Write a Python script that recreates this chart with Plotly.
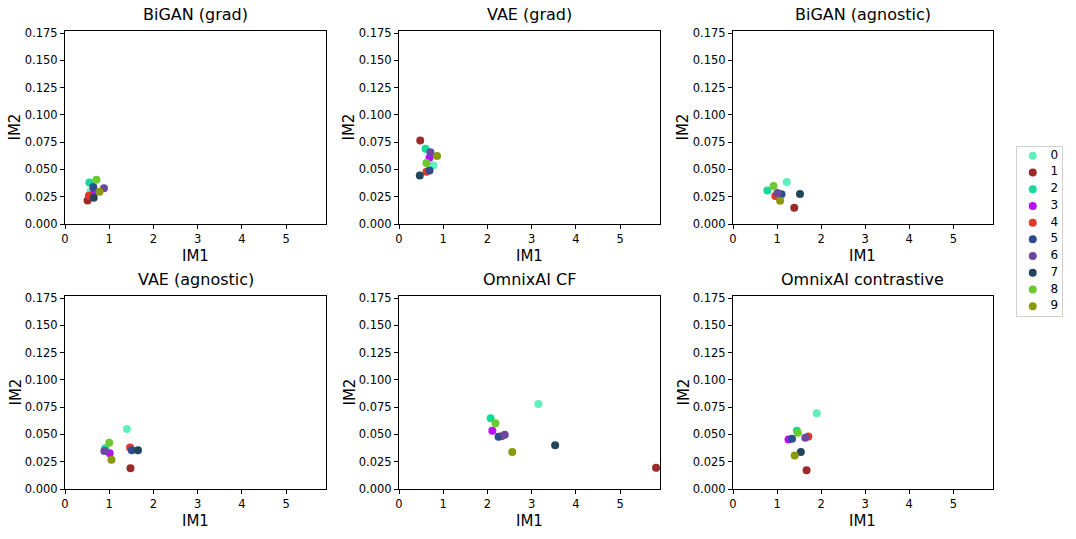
import plotly.graph_objects as go

# Scatter of IM1 vs IM2 per class, six explainer variants.
W, H = 1076, 539

CLASSES = ["0", "1", "2", "3", "4", "5", "6", "7", "8", "9"]
COLORS = ["#60f0bf", "#9b2b2b", "#17d99a", "#b511f2", "#e0392c",
          "#2f4c8c", "#6b49a0", "#22465a", "#6cc92e", "#8a9a0e"]

PANEL_TITLES = ["BiGAN (grad)", "VAE (grad)", "BiGAN (agnostic)",
                "VAE (agnostic)", "OmnixAI CF", "OmnixAI contrastive"]

# IM1 / IM2 per class (index = class label)
bigan_grad_im1 = [0.58, 0.51, 0.55, 0.65, 0.54, 0.64, 0.88, 0.65, 0.71, 0.78]
bigan_grad_im2 = [0.030, 0.0216, 0.038, 0.0284, 0.026, 0.034, 0.0327, 0.024, 0.0405, 0.0296]

vae_grad_im1 = [0.78, 0.48, 0.60, 0.69, 0.62, 0.69, 0.71, 0.47, 0.62, 0.86]
vae_grad_im2 = [0.0537, 0.0766, 0.069, 0.0608, 0.048, 0.049, 0.0657, 0.0444, 0.0558, 0.0623]

bigan_agn_im1 = [1.22, 1.39, 0.78, 1.00, 0.96, 1.10, 1.01, 1.52, 0.92, 1.07]
bigan_agn_im2 = [0.0386, 0.0148, 0.0308, 0.027, 0.0256, 0.0272, 0.0284, 0.0275, 0.0349, 0.0213]

vae_agn_im1 = [1.40, 1.48, 0.91, 1.01, 1.47, 1.51, 0.89, 1.65, 1.00, 1.05]
vae_agn_im2 = [0.0549, 0.0191, 0.0373, 0.0327, 0.038, 0.0355, 0.0349, 0.0355, 0.0423, 0.0269]

cf_im1 = [3.15, 5.81, 2.07, 2.11, 2.32, 2.25, 2.39, 3.53, 2.18, 2.56]
cf_im2 = [0.078, 0.0194, 0.0648, 0.0534, 0.0484, 0.0479, 0.0497, 0.0401, 0.0602, 0.034]

contr_im1 = [1.90, 1.67, 1.45, 1.26, 1.71, 1.34, 1.64, 1.54, 1.47, 1.40]
contr_im2 = [0.0694, 0.0173, 0.0534, 0.0454, 0.0481, 0.046, 0.0469, 0.034, 0.0515, 0.0306]

PANELS = [(bigan_grad_im1, bigan_grad_im2), (vae_grad_im1, vae_grad_im2),
          (bigan_agn_im1, bigan_agn_im2), (vae_agn_im1, vae_agn_im2),
          (cf_im1, cf_im2), (contr_im1, contr_im2)]

X_TICKS = [0, 1, 2, 3, 4, 5]
Y_TICKS = [0.0, 0.025, 0.05, 0.075, 0.1, 0.125, 0.15, 0.175]

# panel boxes in pixels: (left, right), (top, bottom)
COLS_PX = [(65, 326), (399, 660), (733, 993)]
ROWS_PX = [(31, 224), (296, 489)]
LEGEND_PX = (1017, 1062, 147, 316)

FONT = "DejaVu Sans"

fig = go.Figure()
annotations = []
for i, (xs, ys) in enumerate(PANELS):
    r, c = divmod(i, 3)
    ax = "" if i == 0 else str(i + 1)
    for k, lab in enumerate(CLASSES):
        fig.add_trace(go.Scatter(
            x=[xs[k]], y=[ys[k]], mode="markers", name=lab,
            marker=dict(color=COLORS[k], size=8, line=dict(width=0)),
            xaxis="x" + ax, yaxis="y" + ax,
        ))
    l, rr = COLS_PX[c]
    t, b = ROWS_PX[r]
    axis_common = dict(showline=True, linecolor="black", linewidth=1, mirror=True,
                       ticks="outside", ticklen=4, tickcolor="black",
                       showgrid=False, zeroline=False, automargin=False,
                       tickfont=dict(family=FONT, size=11.5, color="black"))
    fig.update_layout({
        "xaxis" + ax: dict(domain=[l / W, rr / W], range=[0, 5.9], tickvals=X_TICKS,
                           anchor="y" + ax, **axis_common),
        "yaxis" + ax: dict(domain=[1 - b / H, 1 - t / H], range=[0, 0.1769],
                           tickvals=Y_TICKS, tickformat=".3f",
                           anchor="x" + ax, **axis_common),
    })
    cx = (l + rr) / 2 / W
    annotations.append(dict(text=PANEL_TITLES[i], x=cx, y=1 - (t - 5) / H,
                            xref="paper", yref="paper", xanchor="center", yanchor="bottom",
                            showarrow=False, font=dict(family=FONT, size=16, color="black")))
    annotations.append(dict(text="IM1", x=cx, y=1 - (b + 21) / H,
                            xref="paper", yref="paper", xanchor="center", yanchor="top",
                            showarrow=False, font=dict(family=FONT, size=15, color="black")))
    annotations.append(dict(text="IM2", x=(l - 50) / W, y=1 - (t + b) / 2 / H,
                            xref="paper", yref="paper", xanchor="center", yanchor="middle",
                            textangle=-90, showarrow=False,
                            font=dict(family=FONT, size=15, color="black")))

# legend drawn as a small extra axis, matplotlib style
fig.add_trace(go.Scatter(x=[0.35] * len(CLASSES), y=CLASSES, mode="markers",
                         marker=dict(color=COLORS, size=8), hoverinfo="skip",
                         xaxis="x7", yaxis="y7"))
fig.add_trace(go.Scatter(x=[0.83] * len(CLASSES), y=CLASSES, mode="text", text=CLASSES,
                         textfont=dict(family=FONT, size=12, color="black"),
                         hoverinfo="skip", xaxis="x7", yaxis="y7"))
lx0, lx1, ly0, ly1 = LEGEND_PX
legend_axis = dict(showline=True, linecolor="#d0d0d0", linewidth=1, mirror=True,
                   showticklabels=False, ticks="", showgrid=False, zeroline=False,
                   automargin=False, fixedrange=True)
fig.update_layout(
    xaxis7=dict(domain=[lx0 / W, lx1 / W], range=[0, 1], anchor="y7", **legend_axis),
    yaxis7=dict(domain=[1 - ly1 / H, 1 - ly0 / H], range=[9.58, -0.52], type="category",
                anchor="x7", **legend_axis),
)

fig.update_layout(
    width=W, height=H,
    margin=dict(l=0, r=0, t=0, b=0, autoexpand=False),
    plot_bgcolor="white", paper_bgcolor="white",
    annotations=annotations,
    showlegend=False,
    font=dict(family=FONT),
)

fig.write_html("out.html", config={"displayModeBar": False},
               post_script="document.body.style.margin='0';"
               "document.body.style.overflow='hidden';")
